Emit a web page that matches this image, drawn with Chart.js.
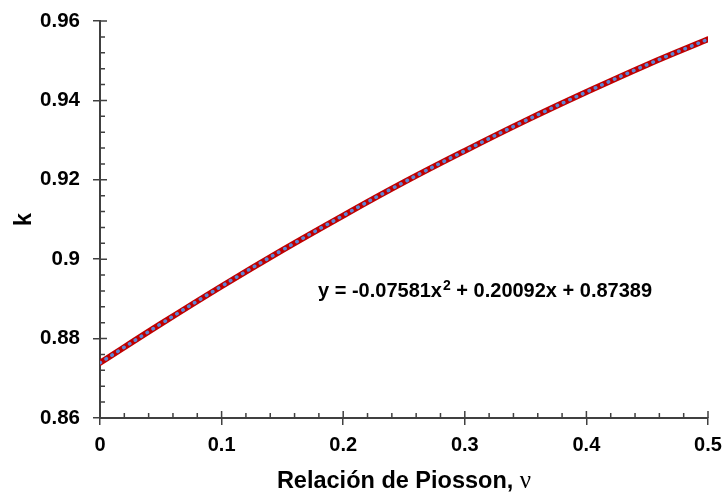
<!DOCTYPE html>
<html>
<head>
<meta charset="utf-8">
<script src="https://cdn.jsdelivr.net/npm/chart.js@4"></script>
<style>
  body { margin: 0; background: #fff; }
  #caja { width: 724px; height: 498px; }
</style>
</head>
<body>
<div id="caja"><canvas id="grafico"></canvas></div>
<script>
// relación de Poisson vs k
const poisson = [0, 0.05, 0.1, 0.15, 0.2, 0.25, 0.3, 0.35, 0.4, 0.45, 0.5];
const kValores = [0.8739, 0.8837, 0.8932, 0.9023, 0.9110, 0.9194, 0.9273, 0.9349, 0.9421, 0.9490, 0.9554];
const kAjuste = [0.8739, 0.8837, 0.8932, 0.9023, 0.9110, 0.9194, 0.9273, 0.9349, 0.9421, 0.9490, 0.9554];
const xTicks = [0, 0.1, 0.2, 0.3, 0.4, 0.5];
const yTicks = [0.86, 0.88, 0.9, 0.92, 0.94, 0.96];
const ecuacion = ['y = -0.07581x', '2', ' + 0.20092x + 0.87389'];

const colorEje = '#404040';
const fuente = "'Liberation Sans', Arial, sans-serif";
const fuenteGriega = "'Liberation Serif', 'Times New Roman', serif";

// marcas menores hacia dentro, títulos y ecuación
const marcas = {
  id: 'marcas',
  afterDraw(chart) {
    const ctx = chart.ctx;
    const a = chart.chartArea;
    const sx = chart.scales.x, sy = chart.scales.y;
    ctx.save();
    ctx.strokeStyle = colorEje;
    ctx.lineWidth = 1.5;
    ctx.beginPath();
    for (let i = 0; i <= 25; i++) {
      const px = sx.getPixelForValue(i * 0.02);
      const largo = i % 5 === 0 ? 7 : 5;
      ctx.moveTo(px, a.bottom);
      ctx.lineTo(px, a.bottom - largo);
    }
    for (let i = 0; i <= 25; i++) {
      const py = sy.getPixelForValue(0.86 + i * 0.004);
      const largo = i % 5 === 0 ? 7 : 5;
      ctx.moveTo(a.left, py);
      ctx.lineTo(a.left + largo, py);
    }
    ctx.stroke();

    // títulos de los ejes
    ctx.fillStyle = '#000';
    ctx.textBaseline = 'alphabetic';
    const t1 = 'Relación de Piosson, ';
    ctx.font = 'bold 23.5px ' + fuente;
    const w1 = ctx.measureText(t1).width;
    ctx.font = '25px ' + fuenteGriega;
    const w2 = ctx.measureText('ν').width;
    const x0 = (a.left + a.right) / 2 - (w1 + w2) / 2;
    ctx.textAlign = 'left';
    ctx.font = 'bold 23.5px ' + fuente;
    ctx.fillText(t1, x0, 488);
    ctx.font = '25px ' + fuenteGriega;
    ctx.fillText('ν', x0 + w1, 488);

    ctx.save();
    ctx.translate(31, (a.top + a.bottom) / 2);
    ctx.rotate(-Math.PI / 2);
    ctx.textAlign = 'center';
    ctx.font = 'bold 24px ' + fuente;
    ctx.fillText('k', 0, 0);
    ctx.restore();

    // ecuación del ajuste, con el exponente elevado
    let ex = 318;
    const ey = 297;
    ctx.font = 'bold 20px ' + fuente;
    ctx.fillText(ecuacion[0], ex, ey);
    ex += ctx.measureText(ecuacion[0]).width + 1;
    ctx.font = 'bold 14px ' + fuente;
    ctx.fillText(ecuacion[1], ex, ey - 7);
    ex += ctx.measureText(ecuacion[1]).width;
    ctx.font = 'bold 20px ' + fuente;
    ctx.fillText(ecuacion[2], ex, ey);
    ctx.restore();
  }
};

const datos = {
  labels: poisson,
  datasets: [
    {
      label: 'k',
      data: poisson.map((x, i) => ({ x: x, y: kValores[i] })),
      borderColor: '#C00000',
      borderWidth: 6,
      pointRadius: 0,
      tension: 0.4,
      borderCapStyle: 'round',
      order: 2
    },
    {
      label: 'Polinómica',
      data: poisson.map((x, i) => ({ x: x, y: kAjuste[i] })),
      borderColor: '#5B86D6',
      borderWidth: 3.5,
      borderDash: [0.5, 6.5],
      borderCapStyle: 'round',
      pointRadius: 0,
      tension: 0.4,
      order: 1
    }
  ]
};

const config = {
  type: 'line',
  data: datos,
  plugins: [marcas],
  options: {
    responsive: true,
    maintainAspectRatio: false,
    animation: false,
    layout: { padding: { top: 21, right: 16, bottom: 0, left: 0 } },
    plugins: { legend: { display: false }, tooltip: { enabled: false } },
    scales: {
      x: {
        type: 'linear',
        min: 0,
        max: 0.5,
        afterBuildTicks: (s) => { s.ticks = xTicks.map(v => ({ value: v })); },
        afterFit: (s) => { s.height = 80; s.paddingLeft = 0; s.paddingRight = 0; },
        ticks: {
          color: '#000',
          font: { family: fuente, size: 20, weight: 'bold' },
          padding: 8,
          maxRotation: 0,
          callback: (v) => String(Number(v.toFixed(2)))
        },
        grid: { drawOnChartArea: false, tickLength: 7, color: colorEje, lineWidth: 1.5 },
        border: { color: colorEje, width: 2 }
      },
      y: {
        type: 'linear',
        min: 0.86,
        max: 0.96,
        afterBuildTicks: (s) => { s.ticks = yTicks.map(v => ({ value: v })); },
        afterFit: (s) => { s.width = 100; s.paddingTop = 0; s.paddingBottom = 0; },
        ticks: {
          color: '#000',
          font: { family: fuente, size: 20.5, weight: 'bold' },
          padding: 13,
          callback: (v) => String(Number(v.toFixed(2)))
        },
        grid: { drawOnChartArea: false, tickLength: 7, color: colorEje, lineWidth: 1.5 },
        border: { color: colorEje, width: 2 }
      }
    }
  }
};

new Chart(document.getElementById('grafico'), config);
</script>
</body>
</html>
